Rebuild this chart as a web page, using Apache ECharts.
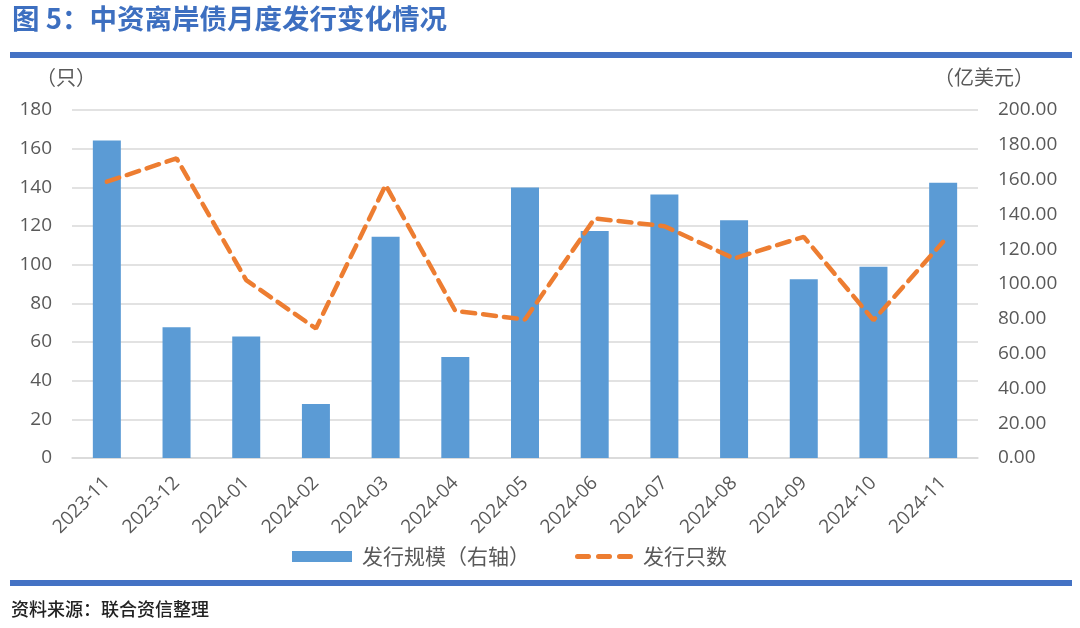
<!DOCTYPE html>
<html>
<head>
<meta charset="utf-8">
<script src="https://cdn.jsdelivr.net/npm/echarts@6/dist/echarts.min.js"></script>
<style>
  html, body { margin: 0; padding: 0; background: #fff; }
  #chart { width: 1080px; height: 628px; }
</style>
</head>
<body>
<div id="chart"></div>
<script>
const months = ['2023-11', '2023-12', '2024-01', '2024-02', '2024-03', '2024-04', '2024-05',
  '2024-06', '2024-07', '2024-08', '2024-09', '2024-10', '2024-11'];
// 发行规模（亿美元，右轴）
const issueAmount = [182.4, 75.2, 69.8, 31.1, 127.1, 58.1, 155.5, 130.4, 151.5, 136.7, 102.8, 109.9, 158.2];
// 发行只数（只，左轴）
const issueCount = [142.9, 155.0, 92.0, 67.0, 141.2, 76.1, 71.6, 123.9, 119.9, 103.2, 114.4, 71.3, 111.8];

const blue = '#5b9bd5';
const orange = '#ed7d31';
const gray = '#595959';
const cjk = '"Noto Sans CJK SC", "Open Sans", sans-serif';
const num = '"Open Sans", sans-serif';

const chart = echarts.init(document.getElementById('chart'));

const legendText = { color: gray, fontSize: 21, fontFamily: cjk, padding: [0, 0, 0, 5] };

const option = {
  animation: false,
  backgroundColor: '#fff',
  textStyle: { fontFamily: cjk },
  graphic: [
    {
      type: 'text', left: 12, top: 5,
      style: { text: '图 5：中资离岸债月度发行变化情况', fill: '#3d6fc0', font: 'bold 27.5px ' + cjk }
    },
    { type: 'rect', shape: { x: 10, y: 52, width: 1062, height: 6 }, style: { fill: '#4472c4' } },
    { type: 'rect', shape: { x: 10, y: 580, width: 1062, height: 6 }, style: { fill: '#4472c4' } },
    {
      type: 'text', left: 11, top: 600,
      style: { text: '资料来源：联合资信整理', fill: '#222', font: '500 18px ' + cjk }
    },
    {
      type: 'text', left: 36, top: 67,
      style: { text: '（只）', fill: gray, font: '20px ' + cjk }
    },
    {
      type: 'text', left: 934, top: 67,
      style: { text: '（亿美元）', fill: gray, font: '20px ' + cjk }
    }
  ],
  grid: { left: 72, right: 102, top: 110, bottom: 170 },
  legend: [
    {
      left: 287,
      top: 541,
      itemWidth: 60,
      itemHeight: 11,
      textStyle: legendText,
      data: [{ name: '发行规模（右轴）', icon: 'rect' }]
    },
    {
      left: 570,
      top: 541,
      itemWidth: 58,
      itemHeight: 5,
      textStyle: legendText,
      data: [{
        name: '发行只数',
        icon: 'path://M2,0h11a2,2 0 0 1 0,5h-11a2,2 0 0 1 0,-5z M23,0h11a2,2 0 0 1 0,5h-11a2,2 0 0 1 0,-5z M44,0h11a2,2 0 0 1 0,5h-11a2,2 0 0 1 0,-5z',
        itemStyle: { color: orange }
      }]
    }
  ],
  xAxis: {
    type: 'category',
    data: months,
    axisLine: { lineStyle: { color: '#d9d9d9', width: 1.5 } },
    axisTick: { show: false },
    axisLabel: {
      rotate: 45,
      color: gray,
      fontSize: 19,
      fontFamily: num,
      margin: 22,
      interval: 0
    }
  },
  yAxis: [
    {
      type: 'value',
      min: 0, max: 180, interval: 20,
      axisLine: { show: false },
      axisTick: { show: false },
      axisLabel: { color: gray, fontSize: 19, fontFamily: num, margin: 20 },
      splitLine: { lineStyle: { color: '#d9d9d9', width: 1.5 } }
    },
    {
      type: 'value',
      min: 0, max: 200, interval: 20,
      axisLine: { show: false },
      axisTick: { show: false },
      axisLabel: {
        color: gray, fontSize: 19, fontFamily: num, margin: 20,
        formatter: (v) => v.toFixed(2)
      },
      splitLine: { show: false }
    }
  ],
  series: [
    {
      name: '发行规模（右轴）',
      type: 'bar',
      yAxisIndex: 1,
      data: issueAmount,
      barWidth: 28,
      itemStyle: { color: blue }
    },
    {
      name: '发行只数',
      type: 'line',
      yAxisIndex: 0,
      data: issueCount,
      symbol: 'none',
      itemStyle: { color: orange },
      lineStyle: { color: orange, width: 4.5, type: [13, 8], cap: 'round' }
    }
  ]
};

chart.setOption(option);
</script>
</body>
</html>
